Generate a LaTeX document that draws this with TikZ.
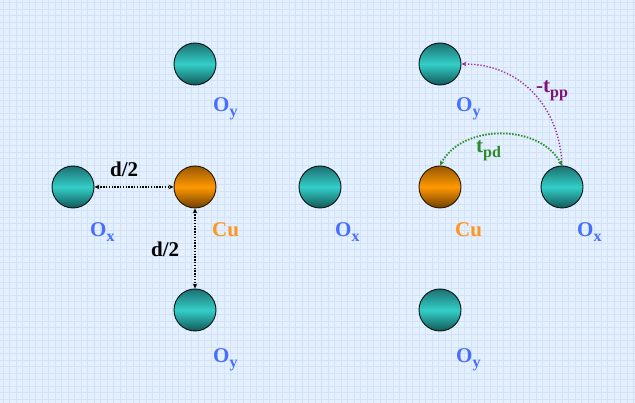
\documentclass[tikz,border=0pt]{standalone}
\usepackage{fontspec}
\setmainfont{Liberation Serif}
\usetikzlibrary{arrows.meta}
\definecolor{bgblue}{RGB}{228,240,253}
\definecolor{gridblue}{RGB}{210,227,249}
\definecolor{tealdark}{RGB}{18,88,88}
\definecolor{tealtop}{RGB}{28,112,112}
\definecolor{tealmid}{RGB}{52,206,200}
\definecolor{orgdark}{RGB}{110,62,0}
\definecolor{orgtop}{RGB}{150,88,0}
\definecolor{orgmid}{RGB}{255,152,0}
\definecolor{lblblue}{RGB}{72,110,255}
\definecolor{lblorange}{RGB}{255,150,30}
\definecolor{lblpurple}{RGB}{128,20,118}
\definecolor{lblgreen}{RGB}{40,140,40}
\definecolor{purpleline}{RGB}{150,50,150}
\definecolor{greenline}{RGB}{40,140,40}
\newcommand{\sbx}[1]{\raisebox{-0.2em}{\fontsize{16}{16}\selectfont #1}}
\tikzset{
  atomO/.style={circle, minimum size=42pt, inner sep=0pt, draw=black!85!teal, line width=0.9pt,
    top color=tealtop, bottom color=tealdark, middle color=tealmid},
  atomCu/.style={circle, minimum size=42pt, inner sep=0pt, draw=black!85!orange, line width=0.9pt,
    top color=orgtop, bottom color=orgdark, middle color=orgmid},
  lbl/.style={anchor=base west, inner sep=0pt, font=\fontsize{21}{21}\selectfont\bfseries},
  olbl/.style={lbl, text=lblblue},
  culbl/.style={lbl, text=lblorange},
  dlbl/.style={lbl, text=black},
  hop/.style={line width=1.6pt, dash pattern=on 1.4pt off 1.4pt,
    {Stealth[length=5pt,width=4.5pt]}-{Stealth[length=5pt,width=4.5pt]}},
  hopone/.style={line width=1.4pt, dash pattern=on 1.3pt off 1.8pt,
    -{Stealth[length=5pt,width=4.5pt]}}
}
\begin{document}
\begin{tikzpicture}[x=1pt,y=-1pt]
\useasboundingbox (0,0) rectangle (635,403);
\fill[bgblue] (0,0) rectangle (635,403);
\foreach \i in {0,...,98} {
  \draw[gridblue, line width=1pt] ({3+\i*6.5},0) -- ({3+\i*6.5},403);
}
\foreach \j in {0,...,62} {
  \draw[gridblue, line width=1pt] (0,{3+\j*6.5}) -- (635,{3+\j*6.5});
}
% left panel
\node[atomO] (oyA) at (195,64) {};
\node[atomO] (oxA) at (73,187) {};
\node[atomCu] (cuA) at (195,187) {};
\node[atomO] (oybA) at (195,310) {};
\node[olbl] (loyA) at (213,112) {O\sbx{y}};
\node[olbl] (loxA) at (90,237) {O\sbx{x}};
\node[culbl] (lcuA) at (212,237) {Cu};
\node[olbl] (loybA) at (213,363) {O\sbx{y}};
\node[dlbl] (dh) at (110,177) {d/2};
\node[dlbl] (dv) at (151,257) {d/2};
\draw[hop] (oxA.east) -- (cuA.west);
\draw[hop] (cuA.south) -- (oybA.north);
% middle
\node[atomO] (oxM) at (320,187) {};
\node[olbl] (loxM) at (335,237) {O\sbx{x}};
% right panel
\node[atomO] (oyB) at (440,64) {};
\node[atomCu] (cuB) at (440,187) {};
\node[atomO] (oxB) at (562,187) {};
\node[atomO] (oybB) at (440,310) {};
\node[olbl] (loyB) at (456,112) {O\sbx{y}};
\node[culbl] (lcuB) at (455,237) {Cu};
\node[olbl] (loxB) at (577,237) {O\sbx{x}};
\node[olbl] (loybB) at (456,363) {O\sbx{y}};
\node[lbl, text=lblpurple] (tpp) at (536,93) {-t\sbx{pp}};
\node[lbl, text=lblgreen] (tpd) at (476,153) {t\sbx{pd}};
\draw[hopone, purpleline] (oxB.north) to[out=92, in=0, looseness=1.05] (oyB.east);
\draw[hop, greenline, line width=1.8pt, dash pattern=on 1.5pt off 1.5pt] (oxB.north) to[out=118, in=62] (cuB.north);
\end{tikzpicture}
\end{document}
